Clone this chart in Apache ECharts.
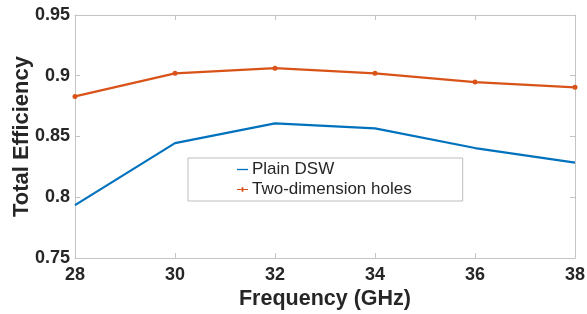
<!DOCTYPE html>
<html>
<head>
<meta charset="utf-8">
<script src="https://cdn.jsdelivr.net/npm/echarts@6/dist/echarts.min.js"></script>
<style>
  html, body { margin: 0; padding: 0; background: #fff; }
  #chart { width: 587px; height: 314px; }
</style>
</head>
<body>
<div id="chart"></div>
<script>
const frequency = [28, 30, 32, 34, 36, 38];
const plainDsw = [0.7935, 0.8445, 0.8608, 0.8567, 0.8405, 0.8285];
const twoDimHoles = [0.8830, 0.9020, 0.9062, 0.9020, 0.8948, 0.8905];

const axisGray = '#c4c4c4';
const textDark = '#262626';
const fontName = 'Liberation Sans';

const chart = echarts.init(document.getElementById('chart'), null, { renderer: 'canvas' });

// top / right axes only carry the mirrored inside ticks of the box
const hiddenX = {
  type: 'value',
  min: 28,
  max: 38,
  interval: 2,
  axisLine: { show: true, lineStyle: { color: axisGray, width: 1 } },
  axisTick: { show: true, inside: true, length: 5, lineStyle: { color: axisGray } },
  axisLabel: { show: false },
  splitLine: { show: false },
};

const hiddenY = {
  type: 'value',
  min: 0.75,
  max: 0.95,
  interval: 0.05,
  axisLine: { show: true, lineStyle: { color: axisGray, width: 1 } },
  axisTick: { show: true, inside: true, length: 5, lineStyle: { color: axisGray } },
  axisLabel: { show: false },
  splitLine: { show: false },
};

const option = {
  backgroundColor: '#ffffff',
  animation: false,
  textStyle: { fontFamily: fontName },
  grid: { left: 75, right: 12, top: 15, bottom: 56, containLabel: false, outerBoundsMode: 'none' },
  legend: {
    orient: 'vertical',
    left: 188,
    top: 158,
    padding: [3, 51, 3, 49],
    itemGap: 3,
    itemWidth: 11,
    itemHeight: 10,
    borderColor: '#bdbdbd',
    borderWidth: 1,
    backgroundColor: '#ffffff',
    textStyle: { fontFamily: fontName, fontSize: 17, color: textDark, padding: [0, 0, 0, -1] },
    data: [
      { name: 'Plain DSW', icon: 'path://M0,0 L11,0 L11,1.3 L0,1.3 Z' },
      { name: 'Two-dimension holes', icon: 'path://M0,2 L11,2 L11,3.2 L0,3.2 Z M4.6,0.4 L6.4,0.4 L6.4,4.8 L4.6,4.8 Z' },
    ],
  },
  xAxis: [
    {
      type: 'value',
      min: 28,
      max: 38,
      interval: 2,
      name: 'Frequency (GHz)',
      nameLocation: 'middle',
      nameGap: 30,
      nameMoveOverlap: false,
      nameTextStyle: { fontFamily: fontName, fontSize: 21.5, fontWeight: 'bold', color: textDark },
      axisLine: { show: true, lineStyle: { color: axisGray, width: 1 } },
      axisTick: { show: true, inside: true, length: 5, lineStyle: { color: axisGray } },
      axisLabel: { fontFamily: fontName, fontSize: 18, fontWeight: 'bold', color: textDark, margin: 8 },
      splitLine: { show: false },
    },
    Object.assign({}, hiddenX, { position: 'top' }),
  ],
  yAxis: [
    {
      type: 'value',
      min: 0.75,
      max: 0.95,
      interval: 0.05,
      name: 'Total Efficiency',
      nameLocation: 'middle',
      nameGap: 42,
      nameMoveOverlap: false,
      nameTextStyle: { fontFamily: fontName, fontSize: 22, fontWeight: 'bold', color: textDark },
      axisLine: { show: true, lineStyle: { color: axisGray, width: 1 } },
      axisTick: { show: true, inside: true, length: 5, lineStyle: { color: axisGray } },
      axisLabel: {
        fontFamily: fontName, fontSize: 18, fontWeight: 'bold', color: textDark, margin: 5,
        formatter: function (v) { return String(Math.round(v * 100) / 100); },
      },
      splitLine: { show: false },
    },
    Object.assign({}, hiddenY, { position: 'right' }),
  ],
  series: [
    {
      name: 'Plain DSW',
      type: 'line',
      data: frequency.map((f, i) => [f, plainDsw[i]]),
      symbol: 'none',
      lineStyle: { color: '#0072BD', width: 2.2 },
      itemStyle: { color: '#0072BD' },
    },
    {
      name: 'Two-dimension holes',
      type: 'line',
      data: frequency.map((f, i) => [f, twoDimHoles[i]]),
      symbol: 'circle',
      symbolSize: 5,
      lineStyle: { color: '#D95319', width: 2.2 },
      itemStyle: { color: '#D95319' },
    },
  ],
};

chart.setOption(option);
</script>
</body>
</html>
